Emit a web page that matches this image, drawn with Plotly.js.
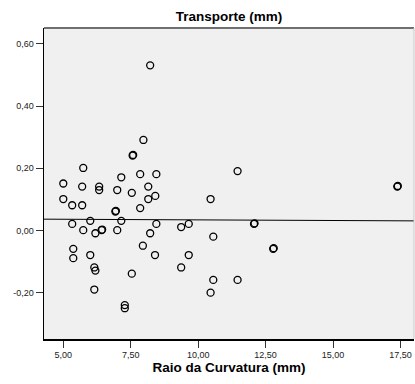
<!DOCTYPE html>
<html>
<head>
<meta charset="utf-8">
<script src="https://cdn.plot.ly/plotly-3.0.1.min.js"></script>
<style>html,body{margin:0;padding:0;background:#fff;}#chart{width:415px;height:384px;}</style>
</head>
<body>
<div id="chart"></div>
<script>
// Raio da Curvatura (mm)
var raio = [8.22, 7.97, 7.57, 7.59, 5.74, 11.46, 7.85, 8.45, 7.15, 5.00,
            5.70, 6.33, 6.33, 8.15, 7.00, 7.54, 8.41, 5.00, 8.15, 10.46,
            5.33, 5.70, 7.85, 6.93, 6.95, 6.00, 7.15, 5.33, 8.45, 9.65,
            12.07, 12.09, 9.37, 5.74, 6.42, 6.44, 7.00, 6.19, 8.22, 10.56,
            7.95, 5.37, 12.78, 12.80, 6.00, 8.40, 9.65, 5.37, 6.15, 6.19,
            9.37, 7.54, 10.56, 11.46, 6.15, 10.46, 7.28, 7.28, 17.38, 17.40];
// Transporte (mm)
var transporte = [0.531, 0.291, 0.241, 0.243, 0.201, 0.191, 0.181, 0.181, 0.171, 0.151,
                  0.141, 0.141, 0.130, 0.141, 0.130, 0.121, 0.111, 0.101, 0.101, 0.101,
                  0.081, 0.081, 0.072, 0.061, 0.063, 0.031, 0.031, 0.021, 0.021, 0.021,
                  0.021, 0.023, 0.011, 0.001, 0.001, 0.003, 0.001, -0.009, -0.009, -0.020,
                  -0.049, -0.059, -0.059, -0.057, -0.079, -0.079, -0.079, -0.089, -0.119, -0.129,
                  -0.119, -0.139, -0.159, -0.159, -0.190, -0.200, -0.240, -0.250, 0.141, 0.143];
// Linha de ajuste
var ajusteX = [4.285, 18.0];
var ajusteY = [0.0363, 0.0308];

var xTickVals = [5, 7.5, 10, 12.5, 15, 17.5];
var xTickText = ['5,00', '7,50', '10,00', '12,50', '15,00', '17,50'];
var yTickVals = [-0.2, 0, 0.2, 0.4, 0.6];
var yTickText = ['-0,20', '0,00', '0,20', '0,40', '0,60'];

var fontFam = 'Liberation Sans, Arial, sans-serif';

var traces = [
  {x: ajusteX, y: ajusteY, mode: 'lines', type: 'scatter',
   line: {color: '#000', width: 1}, hoverinfo: 'skip'},
  {x: raio, y: transporte, mode: 'markers', type: 'scatter',
   marker: {symbol: 'circle-open', size: 7, color: '#000', line: {width: 1.3, color: '#000'}}}
];

var layout = {
  width: 415, height: 384,
  margin: {l: 44, r: 1, t: 28, b: 45, pad: 0},
  paper_bgcolor: '#ffffff',
  plot_bgcolor: '#f0f0f0',
  showlegend: false,
  font: {family: fontFam, color: '#222'},
  title: {text: 'Transporte (mm)', font: {family: fontFam, size: 13.5, weight: 'bold', color: '#000'},
          x: 0.5, xref: 'paper', xanchor: 'center', y: 1 - 16/384, yref: 'container', yanchor: 'middle'},
  xaxis: {
    range: [4.285, 18.0], tickvals: xTickVals, ticktext: xTickText,
    ticks: 'outside', ticklen: 7, tickwidth: 1, tickcolor: '#333',
    showgrid: false, zeroline: false, showline: true, linecolor: '#000', linewidth: 1.5,
    tickfont: {family: fontFam, size: 9, color: '#222'},
    title: {text: 'Raio da Curvatura (mm)', font: {family: fontFam, size: 13.5, weight: 'bold', color: '#000'}, standoff: 3}
  },
  yaxis: {
    range: [-0.349, 0.651], tickvals: yTickVals, ticktext: yTickText,
    ticks: 'outside', ticklen: 7, tickwidth: 1, tickcolor: '#333',
    showgrid: false, zeroline: false, showline: true, linecolor: '#000', linewidth: 1.5,
    tickfont: {family: fontFam, size: 9, color: '#222'}
  },
  shapes: [
    {type: 'line', xref: 'paper', yref: 'paper', x0: 0, x1: 1, y0: 1, y1: 1, line: {color: '#707070', width: 2}},
    {type: 'line', xref: 'paper', yref: 'paper', x0: 1, x1: 1, y0: 0, y1: 1, line: {color: '#c8c8c8', width: 1}}
  ]
};

Plotly.newPlot('chart', traces, layout, {displayModeBar: false, staticPlot: true});
</script>
</body>
</html>
